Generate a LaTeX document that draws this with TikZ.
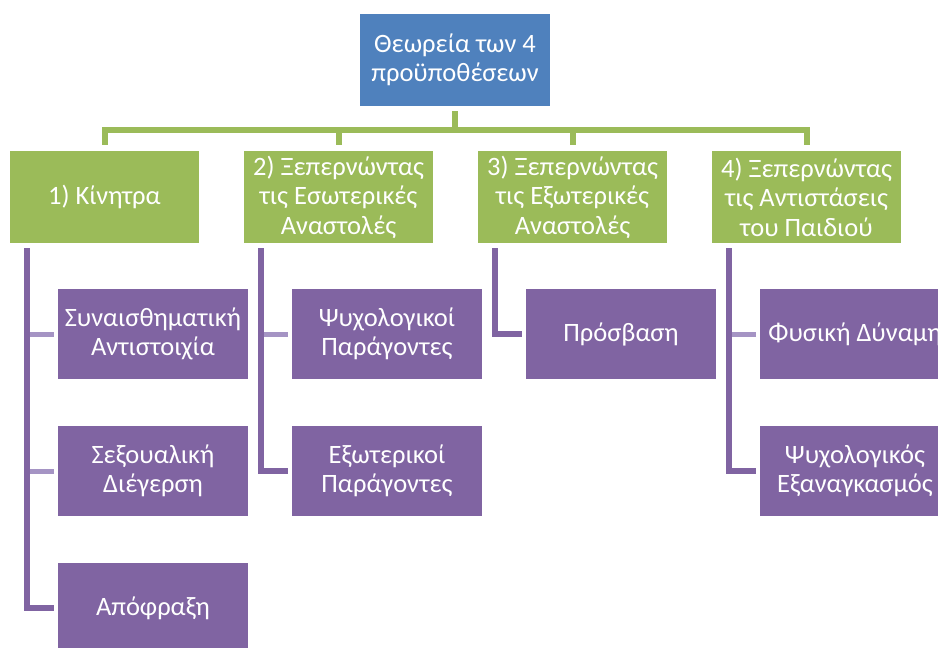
\documentclass[tikz,border=0pt]{standalone}
\usepackage{fontspec}
\setmainfont{Carlito}
\definecolor{cblue}{HTML}{4F81BD}
\definecolor{cgreen}{HTML}{9BBB59}
\definecolor{cpurple}{HTML}{8064A2}
\definecolor{clav}{HTML}{A594C4}
\begin{document}
\begin{tikzpicture}[x=1pt,y=-1pt,
  box/.style={rectangle,inner sep=0pt,text=white,align=center,
    font=\fontsize{26.5}{29.5}\selectfont},
  topbox/.style={box,fill=cblue,minimum width=190pt,minimum height=92pt},
  grbox/.style={box,fill=cgreen,minimum width=189pt,minimum height=92pt},
  pubox/.style={box,fill=cpurple,minimum width=190pt,minimum height=90pt},
  gline/.style={draw=cgreen,line width=6pt},
  pline/.style={draw=cpurple,line width=6pt},
  hline/.style={draw=clav,line width=5pt}]
\useasboundingbox (0,0) rectangle (938,648);
\clip (0,0) rectangle (938,648);
\node[topbox] (top) at (455,60) {Θεωρεία των 4\\προϋποθέσεων};
\node[grbox] (k1) at (104.5,197) {1) Κίνητρα};
\node[grbox] (k2) at (338.5,197) {2) Ξεπερνώντας\\τις Εσωτερικές\\Αναστολές};
\node[grbox] (k3) at (572.5,197) {3) Ξεπερνώντας\\τις Εξωτερικές\\Αναστολές};
\node[grbox] (k4) at (806.5,197) {4) Ξεπερνώντας\\τις Αντιστάσεις\\του Παιδιού};
\coordinate (bus) at (455,130);
% green connectors
\draw[gline] ([yshift=-5pt]top.south) -- (top.south |- bus);
\draw[gline] ([yshift=6pt]k1.north) |- (bus) -| ([yshift=6pt]k4.north);
\draw[gline] ([yshift=6pt]k2.north) -- (k2.north |- bus);
\draw[gline] ([yshift=6pt]k3.north) -- (k3.north |- bus);
% children
\node[pubox] (a1) at (153,334) {Συναισθηματική\\Αντιστοιχία};
\node[pubox] (a2) at (153,471) {Σεξουαλική\\Διέγερση};
\node[pubox] (a3) at (153,608) {Απόφραξη};
\node[pubox] (b1) at (387,334) {Ψυχολογικοί\\Παράγοντες};
\node[pubox] (b2) at (387,471) {Εξωτερικοί\\Παράγοντες};
\node[pubox] (c1) at (621,334) {Πρόσβαση};
\node[pubox] (d1) at (855,334) {Φυσική Δύναμη};
\node[pubox] (d2) at (855,471) {Ψυχολογικός\\Εξαναγκασμός};
% spines
\coordinate (v1) at ([xshift=17pt,yshift=-5pt]k1.south west);
\coordinate (v2) at ([xshift=17pt,yshift=-5pt]k2.south west);
\coordinate (v3) at ([xshift=17pt,yshift=-5pt]k3.south west);
\coordinate (v4) at ([xshift=17pt,yshift=-5pt]k4.south west);
\draw[hline] (v1 |- a1.west) -- ([xshift=-4pt]a1.west);
\draw[hline] (v1 |- a2.west) -- ([xshift=-4pt]a2.west);
\draw[pline] (v1) |- ([xshift=-4pt]a3.west);
\draw[hline] (v2 |- b1.west) -- ([xshift=-4pt]b1.west);
\draw[pline] (v2) |- ([xshift=-4pt]b2.west);
\draw[pline] (v3) |- ([xshift=-4pt]c1.west);
\draw[hline] (v4 |- d1.west) -- ([xshift=-4pt]d1.west);
\draw[pline] (v4) |- ([xshift=-4pt]d2.west);
\end{tikzpicture}
\end{document}
